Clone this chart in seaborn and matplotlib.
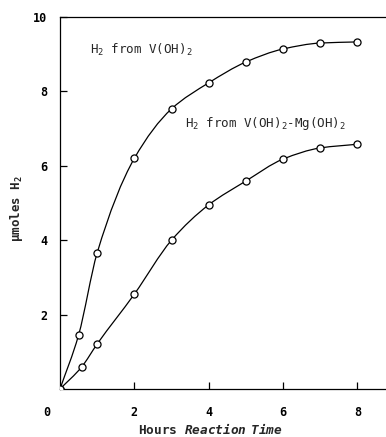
import numpy as np
import pandas as pd
import matplotlib
matplotlib.use("Agg")
import matplotlib.pyplot as plt
import matplotlib.transforms as mtransforms
from matplotlib.path import Path
from matplotlib.patches import PathPatch
import seaborn as sns

# Hydrogen evolved (umol) versus reaction time (h)
hours_v = [0, 0.5, 1, 2, 3, 4, 5, 6, 7, 8]
h2_v = [0, 1.45, 3.66, 6.2, 7.53, 8.23, 8.79, 9.14, 9.3, 9.33]

hours_mg = [0, 0.58, 1, 2, 3, 4, 5, 6, 7, 8]
h2_mg = [0, 0.59, 1.21, 2.55, 4.0, 4.95, 5.59, 6.18, 6.48, 6.58]

series_names = [r"H$_2$ from V(OH)$_2$", r"H$_2$ from V(OH)$_2$-Mg(OH)$_2$"]

x_ticks = [0, 2, 4, 6, 8]
y_ticks = [2, 4, 6, 8, 10]

df = pd.concat([
    pd.DataFrame({"hours": hours_v, "h2": h2_v, "series": series_names[0]}),
    pd.DataFrame({"hours": hours_mg, "h2": h2_mg, "series": series_names[1]}),
])

sns.set_style("ticks")
plt.rcParams["font.family"] = ["DejaVu Sans Mono"]
plt.rcParams["mathtext.fontset"] = "custom"
plt.rcParams["mathtext.rm"] = "DejaVu Sans Mono"
plt.rcParams["mathtext.it"] = "DejaVu Sans Mono:italic:bold"
plt.rcParams["mathtext.default"] = "regular"

fig = plt.figure(figsize=(3.86, 4.37), dpi=100)
ax = fig.add_axes([60 / 386, 48 / 437, 326 / 386, 372 / 437])


def smooth_curve(xs, ys):
    """Monotone cubic (Fritsch-Carlson) curve through the points, as Bezier segments."""
    x = np.asarray(xs, float)
    y = np.asarray(ys, float)
    h = np.diff(x)
    d = np.diff(y) / h
    m = np.empty_like(y)
    m[0], m[-1] = d[0], d[-1]
    for k in range(1, len(x) - 1):
        if d[k - 1] * d[k] <= 0:
            m[k] = 0.0
        else:
            w1 = 2 * h[k] + h[k - 1]
            w2 = h[k] + 2 * h[k - 1]
            m[k] = (w1 + w2) / (w1 / d[k - 1] + w2 / d[k])
    verts = [(x[0], y[0])]
    codes = [Path.MOVETO]
    for k in range(len(x) - 1):
        verts += [(x[k] + h[k] / 3, y[k] + m[k] * h[k] / 3),
                  (x[k + 1] - h[k] / 3, y[k + 1] - m[k + 1] * h[k] / 3),
                  (x[k + 1], y[k + 1])]
        codes += [Path.CURVE4] * 3
    return Path(verts, codes)


for name, sub in df.groupby("series", sort=False):
    patch = PathPatch(smooth_curve(sub["hours"], sub["h2"]), facecolor="none",
                      edgecolor="black", lw=0.9, zorder=2)
    ax.add_patch(patch)

sns.scatterplot(data=df, x="hours", y="h2", hue="series",
                palette=["black", "black"], marker="o", s=26,
                linewidth=0.9, legend=False, zorder=3, ax=ax)
ax.collections[-1].set_facecolor("white")
ax.collections[-1].set_edgecolor("black")

ax.set_xlim(0, 8.77)
ax.set_ylim(0, 10)
ax.set_xticks(x_ticks)
ax.set_yticks(y_ticks)
ax.set_xticklabels([str(t) for t in x_ticks])
ax.set_yticklabels([str(t) for t in y_ticks])
ax.tick_params(direction="in", length=5, width=0.9, colors="black",
               labelsize=8.5)
ax.tick_params(axis="x", pad=12)
ax.tick_params(axis="y", pad=9)
for lab in ax.get_xticklabels() + ax.get_yticklabels():
    lab.set_fontweight("bold")
# origin label sits to the left of the corner
zero_lab = ax.get_xticklabels()[0]
zero_lab.set_transform(zero_lab.get_transform() +
                       mtransforms.ScaledTranslation(-13 / 100, 0, fig.dpi_scale_trans))
ax.xaxis.get_major_ticks()[0].tick1line.set_visible(False)

for side in ["left", "bottom", "top"]:
    ax.spines[side].set_linewidth(0.9)
    ax.spines[side].set_color("black")
ax.spines["right"].set_visible(False)

ax.text(0.81, 9.11, series_names[0], fontsize=9, va="center", ha="left")
ax.text(3.36, 7.15, series_names[1], fontsize=9, va="center", ha="left")

ax.set_xlabel(r"Hours $\mathit{Reaction\ \ Time}$", fontsize=9.2, fontweight="bold")
ax.set_ylabel("μmoles H$_2$", fontsize=9, fontweight="bold")
ax.xaxis.set_label_coords(150 / 326, -33 / 372)
ax.yaxis.set_label_coords(-35 / 326, 180 / 372)

fig.savefig("out.png", dpi=100)
